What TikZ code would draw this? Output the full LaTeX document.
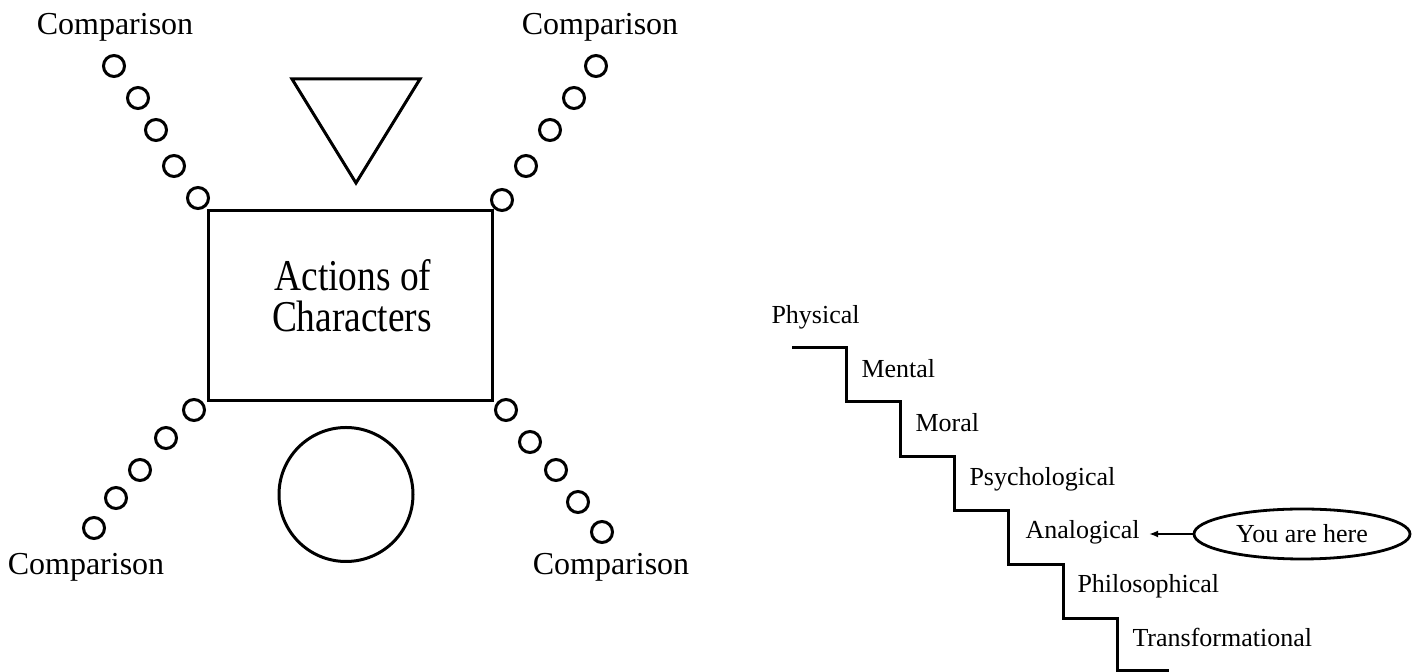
\documentclass[tikz,border=0pt]{standalone}
\usepackage{fontspec}
\setmainfont{Liberation Serif}
\usepackage{graphicx}
\usetikzlibrary{shapes.geometric,arrows.meta}
\begin{document}
\begin{tikzpicture}[x=0.5pt,y=-0.5pt,
  line width=1.5pt,
  dot/.style={circle,draw,line width=1.5pt,minimum size=21pt*0.5,inner sep=0pt},
  cmp/.style={font=\fontsize{16}{19}\selectfont,anchor=base,inner sep=0pt},
  stair/.style={font=\fontsize{13}{15}\selectfont,anchor=base west,inner sep=0pt},
  act/.style={font=\fontsize{22}{24}\selectfont,anchor=base,inner sep=0pt}]
\useasboundingbox (0,0) rectangle (1421,672);
% comparison labels
\node[cmp] (ctl) at (115,35) {Comparison};
\node[cmp] (ctr) at (600,35) {Comparison};
\node[cmp] (cbl) at (86,575) {Comparison};
\node[cmp] (cbr) at (611,575) {Comparison};
% dots
\foreach \p [count=\i] in {(114,66),(138,98),(156,130),(174,166),(198,198)}
  \node[dot] (tl\i) at \p {};
\foreach \p [count=\i] in {(596,66),(574,98),(550,130),(526,166),(502,200)}
  \node[dot] (tr\i) at \p {};
\foreach \p [count=\i] in {(194,410),(166,438),(140,470),(116,498),(94,528)}
  \node[dot] (bl\i) at \p {};
\foreach \p [count=\i] in {(506,410),(530,442),(556,470),(578,502),(602,532)}
  \node[dot] (br\i) at \p {};
% triangle
\draw[line join=miter] (292,79) -- (420,79) -- (356,183) -- cycle;
% rectangle
\draw (208,211) rectangle (492,401);
\node[act] (act1) at (353,291) {\scalebox{0.85}[1]{Actions of}};
\node[act] (act2) at (352,332) {\scalebox{0.85}[1]{Characters}};
% big circle
\draw (346,494.5) circle[radius=67];
% staircase
\draw (792,348) -- (846,348) -- (846,402) -- (900,402) -- (900,457) -- (954,457)
  -- (954,511) -- (1008,511) -- (1008,565) -- (1063,565) -- (1063,619) -- (1117,619)
  -- (1117,671) -- (1169,671);
\node[stair] (phy) at (770,324) {Physical};
\node[stair] (men) at (860,378) {Mental};
\node[stair] (mor) at (914,432) {Moral};
\node[stair] (psy) at (968,486) {Psychological};
\node[stair] (ana) at (1024,539) {Analogical};
\node[stair] (phi) at (1076,593) {Philosophical};
\node[stair] (tra) at (1131,647) {Transformational};
% you are here
\node[ellipse,draw,line width=1.4pt,minimum width=108pt,minimum height=25pt,inner sep=0pt,
  font=\fontsize{13}{15}\selectfont] (you) at (1302,534) {You are here};
\draw[line width=1.4pt,-{Latex[length=4.5pt,width=3.5pt]},shorten >=4pt] (you.west) -- (ana.east |- you.west);
\end{tikzpicture}
\end{document}
